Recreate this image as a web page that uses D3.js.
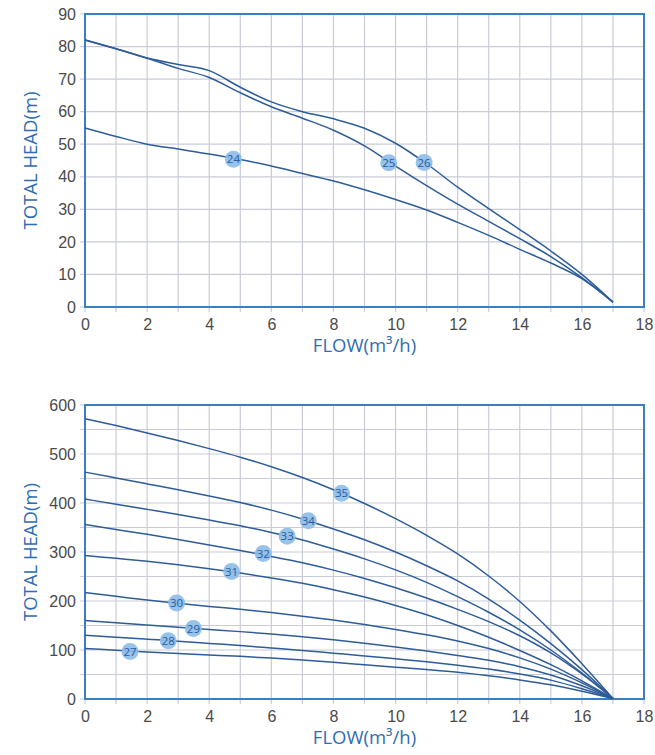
<!DOCTYPE html>
<html><head><meta charset="utf-8">
<script src="https://cdn.jsdelivr.net/npm/d3@7"></script>
<style>
html,body{margin:0;padding:0;background:#fff;}
svg{display:block;}
</style></head>
<body>
<svg id="chart" width="655" height="755"></svg>
<script>
// ---------- DATA ----------
const flow = [0,1,2,3,4,5,6,7,8,9,10,11,12,13,14,15,16,17];
const xTicks = [0,2,4,6,8,10,12,14,16,18];

// Top chart
const topYTicks = [0,10,20,30,40,50,60,70,80,90];
const topNames = ["24","25","26"];
const head24 = [55,52.4,50,48.5,47,45.3,43.3,41,38.7,36,33,29.8,26,22,17.7,13.5,8.7,1.5];
const head25 = [82,79.3,76.4,73.3,70.5,65.8,61.5,58,54.3,49.5,43.3,37.3,31.6,26.3,21,15.5,9,1.5];
const head26 = [82,79.3,76.5,74.5,72.6,67.5,63,60,57.8,54.9,50.3,44,36.8,30.2,23.8,17.2,10,1.5];
const topLabelFlow = [4.78,9.78,10.92];
const topLabelHead = [45.4,44.3,44.4];

// Bottom chart
const botYTicks = [0,100,200,300,400,500,600];
const botNames = ["27","28","29","30","31","32","33","34","35"];
const head27 = [103,99.5,96,93,90,87,83.5,79.5,75,70,65,60,54.5,47.5,39,29,16,1];
const head28 = [130,126,122,118,113.5,109,104,99,93.5,88,82,76,69,61,51,38.5,21,1];
const head29 = [160,155.5,151,146.5,142,137.5,132.5,127,121,114,106,98,89,79,66,49,27,1];
const head30 = [217,209.5,202,195.5,189,183,176.5,169,161,152,142,131,118.5,103,84,61,33,1];
const head31 = [293,287,281,274,266,257,247,236,223,208,191,172,150,126,99,70,37,1];
const head32 = [356,346,336,325.5,314.5,303,291,278,263,246,227,206,183,158,129,94,51,1];
const head33 = [408,397.5,387,376.5,365.5,353.5,340,324.5,306,286,263.5,238,209,177,141,100,53,1];
const head34 = [463,451,439,427,414.5,401,385.5,367.5,347,325,300,272,241,204,161,113,60,1];
const head35 = [572,558,543,527.5,511,493.5,474,452,427,399,368,334,296,251,199,139,72,1];
const botLabelFlow = [1.45,2.68,3.49,2.95,4.72,5.74,6.51,7.19,8.26];
const botLabelHead = [97,119,144,196,260,297,332,364,420];

// ---------- DRAW ----------
const svg = d3.select("#chart");
const lineColor = "#2e5c98";
const frameColor = "#3b7fc2";
const gridColor = "#c9ccd8";
const titleColor = "#2f6db3";

function panel(cfg){
  const x = d3.scaleLinear().domain([0,18]).range([85,644]);
  const y = d3.scaleLinear().domain([0,cfg.ymax]).range([cfg.y0, cfg.y1]);
  const g = svg.append("g");

  const vGrid = d3.range(0,19,1);
  g.selectAll(".vg").data(vGrid).enter().append("line")
    .attr("x1",d=>x(d)).attr("x2",d=>x(d))
    .attr("y1",cfg.y1).attr("y2",cfg.y0+5)
    .attr("stroke",gridColor).attr("stroke-width",1.2);
  const hGrid = d3.range(0,cfg.ymax+0.001,cfg.gridStep);
  g.selectAll(".hg").data(hGrid).enter().append("line")
    .attr("x1",80).attr("x2",644)
    .attr("y1",d=>y(d)).attr("y2",d=>y(d))
    .attr("stroke",gridColor).attr("stroke-width",1.2);

  const xAxis = d3.axisBottom(x).tickValues(xTicks).tickSize(0).tickPadding(12).tickFormat(d3.format("d"));
  const ax = g.append("g").attr("transform",`translate(0,${cfg.y0})`).call(xAxis);
  ax.select(".domain").remove();
  ax.selectAll("text").attr("font-family","'Liberation Sans',Arial,sans-serif").attr("font-size",16).attr("fill","#4a4a4a");

  const yAxis = d3.axisLeft(y).tickValues(cfg.yTicks).tickSize(0).tickPadding(9).tickFormat(d3.format("d"));
  const ay = g.append("g").attr("transform",`translate(85,0)`).call(yAxis);
  ay.select(".domain").remove();
  ay.selectAll("text").attr("font-family","'Liberation Sans',Arial,sans-serif").attr("font-size",16).attr("fill","#4a4a4a");

  g.append("rect").attr("x",x(0)).attr("y",cfg.y1).attr("width",x(18)-x(0)).attr("height",cfg.y0-cfg.y1)
    .attr("fill","none").attr("stroke",frameColor).attr("stroke-width",2);

  const line = d3.line().x((d,i)=>x(flow[i])).y(d=>y(d)).curve(d3.curveMonotoneX);
  g.selectAll(".curve").data(cfg.series).enter().append("path")
    .attr("d",d=>line(d)).attr("fill","none").attr("stroke",lineColor).attr("stroke-width",1.5);

  const lab = g.selectAll(".lab").data(cfg.names).enter().append("g")
    .attr("transform",(d,i)=>`translate(${x(cfg.lf[i])},${y(cfg.lh[i])})`);
  lab.append("circle").attr("r",8.5).attr("fill","#8ebde8").attr("fill-opacity",0.92);
  lab.append("text").text(d=>d).attr("text-anchor","middle").attr("dy","0.36em")
    .attr("font-family","'Open Sans',sans-serif").attr("font-size",11.5).attr("fill","#2a5d9f");

  g.append("text").text("TOTAL HEAD(m)")
    .attr("transform",`translate(37,${(cfg.y0+cfg.y1)/2}) rotate(-90)`)
    .attr("text-anchor","middle").attr("font-family","'Open Sans',sans-serif")
    .attr("font-size",18.5).attr("fill",titleColor);
  g.append("text").text("FLOW(m³/h)")
    .attr("x",(x(0)+x(18))/2).attr("y",cfg.y0+45)
    .attr("text-anchor","middle").attr("font-family","'Open Sans',sans-serif")
    .attr("font-size",18.5).attr("fill",titleColor);
}

panel({ymax:90, y0:307, y1:14, gridStep:10, yTicks:topYTicks,
  series:[head24,head25,head26], names:topNames, lf:topLabelFlow, lh:topLabelHead});
panel({ymax:600, y0:699, y1:405, gridStep:50, yTicks:botYTicks,
  series:[head27,head28,head29,head30,head31,head32,head33,head34,head35], names:botNames, lf:botLabelFlow, lh:botLabelHead});
</script>
</body></html>
